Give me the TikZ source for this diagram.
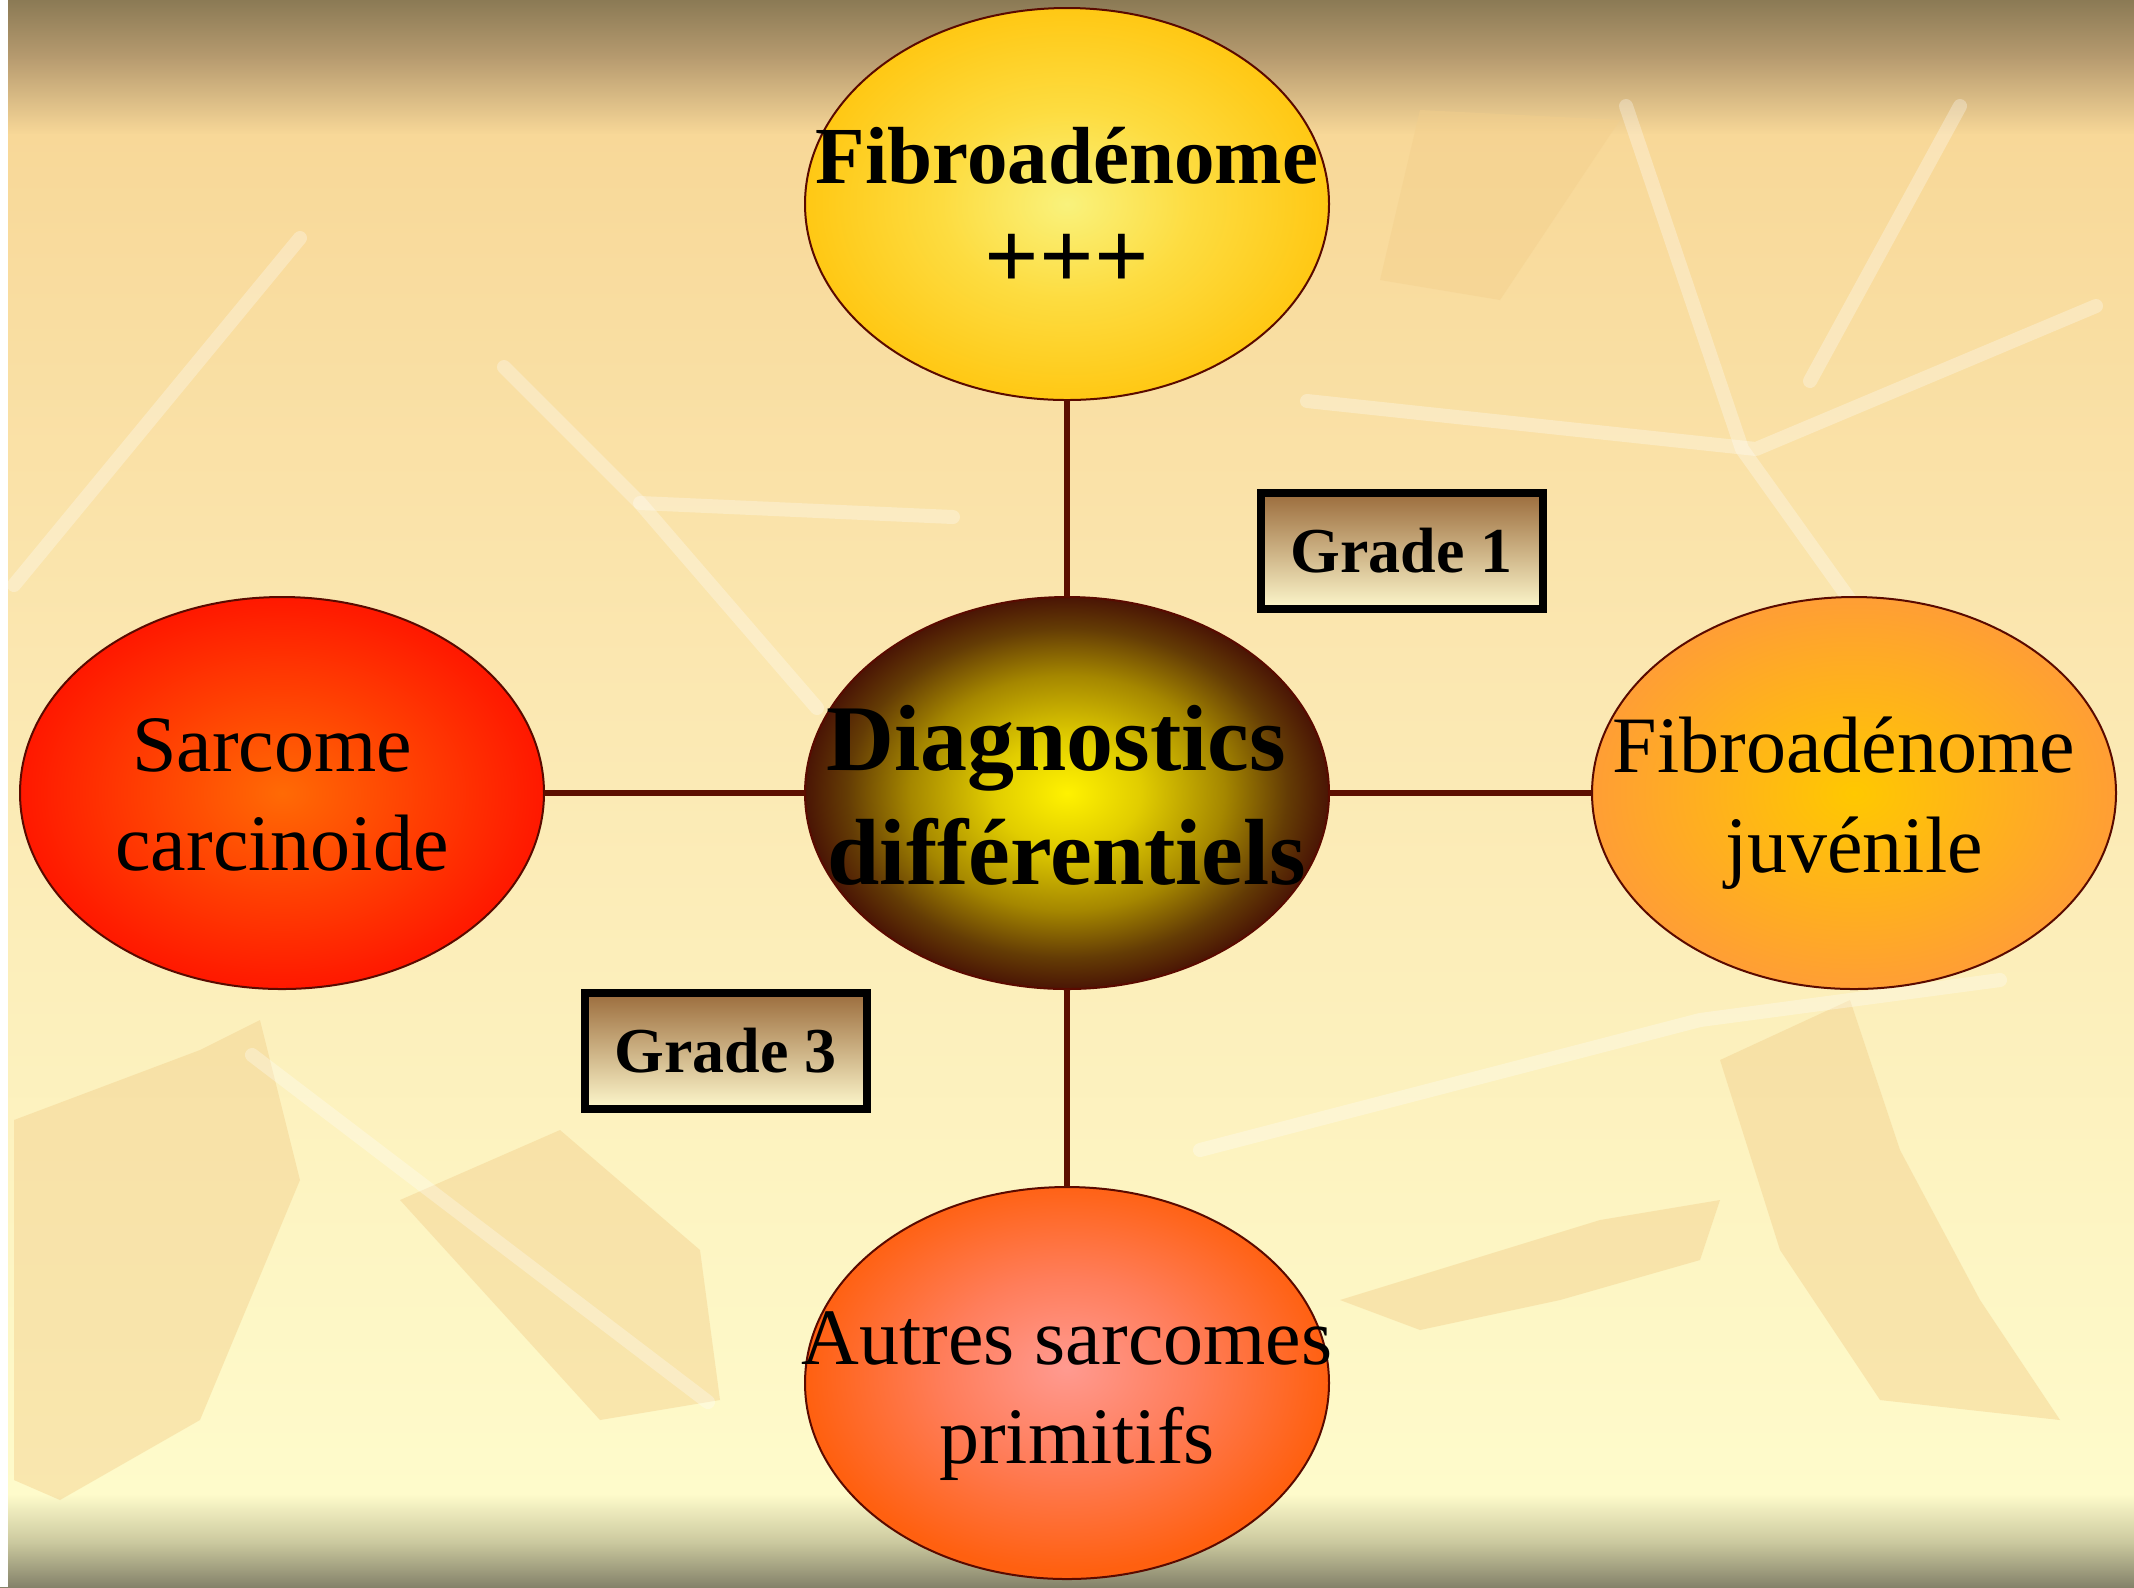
\documentclass[tikz,border=0pt]{standalone}
\usepackage{fontspec}
\setmainfont{Liberation Serif}
\usetikzlibrary{shapes.geometric}
\definecolor{bgTop}{HTML}{8B7A55}
\definecolor{bgTop2}{HTML}{B89C70}
\definecolor{bgTan}{HTML}{F8D898}
\definecolor{bgMid}{HTML}{FBE8B2}
\definecolor{bgLow}{HTML}{FEFBCB}
\definecolor{bgBot2}{HTML}{C8C69C}
\definecolor{bgBot}{HTML}{84826A}
\definecolor{leafTan}{HTML}{F3CF8C}
\definecolor{lineC}{HTML}{5C0F00}
\definecolor{edgeC}{HTML}{5A0A00}
\definecolor{gTop}{HTML}{9B6C3C}
\definecolor{gMid}{HTML}{DEC896}
\definecolor{gBot}{HTML}{FDF7CC}
\pgfdeclareradialshading{cenShade}{\pgfpoint{0bp}{0bp}}{color(0bp)=(rgb,255:red,255;green,242;blue,0); color(7bp)=(rgb,255:red,225;green,205;blue,0); color(15bp)=(rgb,255:red,165;green,135;blue,0); color(21bp)=(rgb,255:red,100;green,60;blue,5); color(25bp)=(rgb,255:red,74;green,21;blue,5); color(50bp)=(rgb,255:red,74;green,21;blue,5)}
\pgfdeclareradialshading{topShade}{\pgfpoint{0bp}{0bp}}{color(0bp)=(rgb,255:red,249;green,242;blue,124); color(12bp)=(rgb,255:red,253;green,220;blue,64); color(25bp)=(rgb,255:red,255;green,200;blue,20); color(50bp)=(rgb,255:red,255;green,200;blue,20)}
\pgfdeclareradialshading{leftShade}{\pgfpoint{0bp}{0bp}}{color(0bp)=(rgb,255:red,255;green,106;blue,5); color(25bp)=(rgb,255:red,255;green,24;blue,0); color(50bp)=(rgb,255:red,255;green,24;blue,0)}
\pgfdeclareradialshading{rightShade}{\pgfpoint{0bp}{0bp}}{color(0bp)=(rgb,255:red,255;green,200;blue,0); color(25bp)=(rgb,255:red,255;green,158;blue,53); color(50bp)=(rgb,255:red,255;green,158;blue,53)}
\pgfdeclareradialshading{botShade}{\pgfpoint{0bp}{2bp}}{color(0bp)=(rgb,255:red,255;green,154;blue,144); color(12bp)=(rgb,255:red,255;green,125;blue,90); color(25bp)=(rgb,255:red,255;green,96;blue,16); color(50bp)=(rgb,255:red,255;green,96;blue,16)}
\begin{document}
\begin{tikzpicture}[x=0.5pt,y=-0.5pt,
  blob/.style={ellipse, minimum width=262pt, minimum height=196pt, inner sep=0pt, outer sep=0pt, draw=edgeC, line width=1pt, shade},
  conn/.style={draw=lineC, line width=2.6pt},
  reg/.style={anchor=base, inner sep=0pt, font=\fontsize{40}{48}\selectfont},
  bld/.style={anchor=base, inner sep=0pt, font=\fontsize{40.5}{48}\selectfont\bfseries},
  plusbld/.style={anchor=base, inner sep=0pt, font=\fontsize{48}{56}\selectfont\bfseries},
  cbld/.style={anchor=base, inner sep=0pt, font=\fontsize{47}{54}\selectfont\bfseries},
  gradebox/.style={draw=black, line width=4pt, minimum width=141pt, minimum height=58pt, inner sep=0pt,
    top color=gTop, middle color=gMid, bottom color=gBot,
    font=\fontsize{32}{38}\selectfont\bfseries},
  streak/.style={draw=white, draw opacity=0.3, line width=7pt, line cap=round, line join=round},
  leaf/.style={fill=leafTan, fill opacity=0.45, draw=none}]
\useasboundingbox (0,0) rectangle (2134,1587);
% background
\shade[top color=bgTop, bottom color=bgTop2] (0,0) rectangle (2134,60);
\shade[top color=bgTop2, bottom color=bgTan] (0,59) rectangle (2134,135);
\shade[top color=bgTan, bottom color=bgMid] (0,134) rectangle (2134,700);
\shade[top color=bgMid, bottom color=bgLow] (0,699) rectangle (2134,1495);
\shade[top color=bgLow, bottom color=bgBot2] (0,1494) rectangle (2134,1545);
\shade[top color=bgBot2, bottom color=bgBot] (0,1544) rectangle (2134,1587);
% background leaves
\fill[leaf] (14,1120) -- (200,1050) -- (260,1020) -- (300,1180) -- (200,1420) -- (60,1500) -- (14,1480) -- cycle;
\fill[leaf] (1340,1300) -- (1600,1220) -- (1720,1200) -- (1700,1260) -- (1560,1300) -- (1420,1330) -- cycle;
\fill[leaf] (1720,1060) -- (1850,1000) -- (1900,1150) -- (1980,1300) -- (2060,1420) -- (1880,1400) -- (1780,1250) -- cycle;
\fill[leaf] (400,1200) -- (560,1130) -- (700,1250) -- (720,1400) -- (600,1420) -- cycle;
\fill[leaf] (1420,110) -- (1620,120) -- (1500,300) -- (1380,280) -- cycle;
\draw[streak] (1626,106) -- (1742,449) -- (1850,600);
\draw[streak] (1960,106) -- (1810,381);
\draw[streak] (1307,401) -- (1756,449) -- (2096,306);
\draw[streak] (14,585) -- (300,238);
\draw[streak] (504,367) -- (640,503) -- (817,708);
\draw[streak] (640,503) -- (953,517);
\draw[streak] (252,1055) -- (708,1402);
\draw[streak] (1200,1150) -- (1700,1020) -- (2000,980);
\fill[white] (0,0) rectangle (8,1587);
% ellipses
\node[blob, shading=topShade] (top) at (1067,204) {};
\node[blob, shading=cenShade] (cen) at (1067,793) {};
\node[blob, shading=leftShade] (left) at (282,793) {};
\node[blob, shading=rightShade] (right) at (1854,793) {};
\node[blob, shading=botShade] (bot) at (1067,1383) {};
% connectors
\draw[conn] (top.south) -- (cen.north);
\draw[conn] (cen.west) -- (left.east);
\draw[conn] (cen.east) -- (right.west);
\draw[conn] (cen.south) -- (bot.north);
% texts
\node[bld] (t1) at (1067,183) {Fibroadénome};
\node[plusbld] (t2) at (1067,288) {+++};
\node[cbld] (c1) at (1056,770) {Diagnostics};
\node[cbld] (c2) at (1067,884) {différentiels};
\node[reg] (l1) at (272,771) {Sarcome};
\node[reg] (l2) at (282,870) {carcinoide};
\node[reg] (r1) at (1844,772) {Fibroadénome};
\node[reg] (r2) at (1854,872) {juvénile};
\node[reg] (b1) at (1067,1364) {Autres sarcomes};
\node[reg] (b2) at (1077,1463) {primitifs};
% grade boxes
\node[gradebox] (g1) at (1401.5,551) {Grade 1};
\node[gradebox] (g3) at (725.5,1050.5) {Grade 3};
\end{tikzpicture}
\end{document}
